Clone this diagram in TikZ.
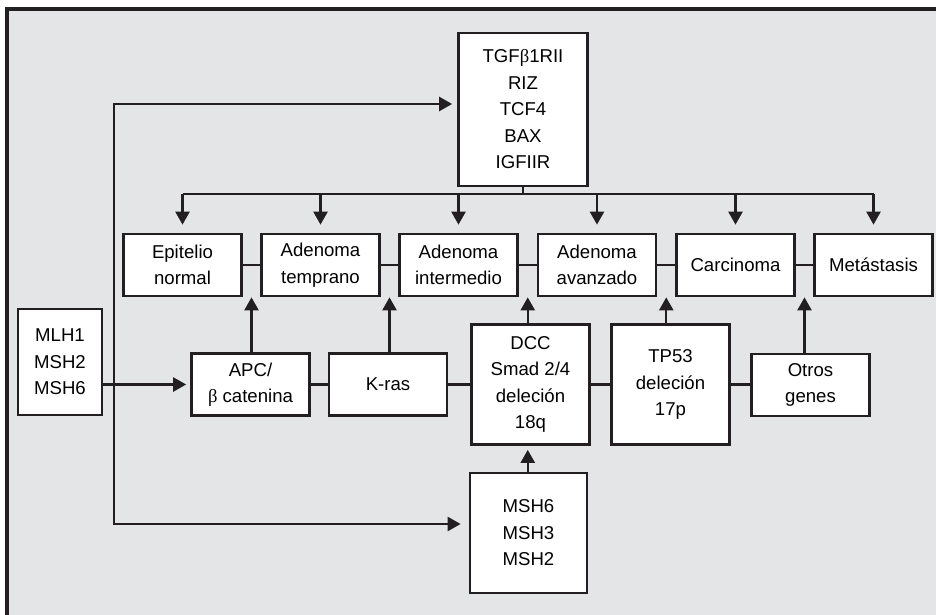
\documentclass[tikz,border=0pt]{standalone}
\usepackage{fontspec}
\setmainfont{Liberation Sans}
\newfontfamily\griega{Liberation Serif}
\usetikzlibrary{arrows.meta,calc}
\definecolor{fondo}{HTML}{E4E5E7}
\definecolor{trazo}{HTML}{231F20}
\tikzset{
  >={Triangle[length=6.5pt,width=7pt]},
  caja/.style={draw=trazo,fill=white,line width=1.35pt,align=center,inner sep=0pt,
    font=\fontsize{9.3}{13.25}\selectfont},
  etapa/.style={caja,minimum width=59pt,minimum height=31pt},
  linea/.style={draw=trazo,line width=1.2pt},
  flecha/.style={linea,->}
}
\begin{document}
\begin{tikzpicture}[x=0.5pt,y=-0.5pt]
\useasboundingbox (0,0) rectangle (936,615);
\fill[fondo] (7,9) rectangle (936,615);
\draw[trazo,line width=1.6pt] (7,615)--(7,9)--(936,9);

% genes de arriba
\node[caja,minimum width=64.5pt,minimum height=76.5pt] (tgf) at (523,109.5)
  {TGF{\griega β}1RII\\RIZ\\TCF4\\BAX\\IGFIIR};

% etapas
\node[etapa] (epi) at (182.5,265) {Epitelio\\normal};
\node[etapa] (temp) at (320.5,265) {Adenoma\\temprano};
\node[etapa] (inter) at (458.5,265) {Adenoma\\intermedio};
\node[etapa] (avan) at (597,265) {Adenoma\\avanzado};
\node[etapa] (carc) at (735.5,265) {Carcinoma};
\node[etapa] (meta) at (873.5,265) {Metástasis};

% genes de abajo
\node[caja,minimum width=42pt,minimum height=53pt] (mlh) at (60,362) {MLH1\\MSH2\\MSH6};
\node[etapa] (apc) at (250.5,384.5) {APC/\\{\griega β} catenina};
\node[etapa] (kras) at (388,384.5) {K-ras};
\node[etapa,minimum height=60pt] (dcc) at (530.5,384.5) {DCC\\Smad 2/4\\deleción\\18q};
\node[etapa,minimum height=60pt] (tp53) at (670.5,384.5) {TP53\\deleción\\17p};
\node[etapa] (otros) at (810.5,385) {Otros\\genes};
\node[caja,minimum width=58.5pt,minimum height=60pt] (msh) at (528.5,533) {MSH6\\MSH3\\MSH2};

% uniones entre cajas
\draw[linea] (epi)--(temp) (temp)--(inter) (inter)--(avan) (avan)--(carc) (carc)--(meta);
\draw[linea] (apc.east)--(apc.east -| kras.west) (kras.east)--(kras.east -| dcc.west)
  (dcc.east)--(dcc.east -| tp53.west) (tp53.east)--(tp53.east -| otros.west);

% reparto desde arriba
\coordinate (bus) at (523,194);
\draw[linea] (tgf.south) -- (tgf.south |- bus);
\draw[linea] (epi.north |- bus) -- (meta.north |- bus);
\foreach \e in {epi,temp,inter,avan,carc,meta}
  \draw[flecha,shorten >=4pt] (\e.north |- bus) -- (\e.north);

% flechas hacia las etapas
\coordinate (h1) at ($(epi.south east)!.5!(temp.south west)$);
\coordinate (h2) at ($(temp.south east)!.5!(inter.south west)$);
\coordinate (h3) at ($(inter.south east)!.5!(avan.south west)$);
\coordinate (h4) at ($(avan.south east)!.5!(carc.south west)$);
\coordinate (h5) at ($(carc.south east)!.5!(meta.south west)$);
\draw[flecha] (apc.north -| h1) -- (h1);
\draw[flecha] (kras.north -| h2) -- (h2);
\draw[flecha] (dcc.north -| h3) -- (h3);
\draw[flecha] (tp53.north -| h4) -- (h4);
\draw[flecha] (otros.north -| h5) -- (h5);
\draw[flecha,shorten >=2pt] (msh.north -| h3) -- (dcc.south -| h3);

% rama de reparacion
\coordinate (ramaA) at (114,104);
\coordinate (ramaB) at (114,524);
\draw[flecha,shorten >=2pt] (mlh.east |- apc) -- (apc.west);
\draw[linea,<->,shorten <=4pt,shorten >=2.5pt] (ramaB -| msh.west) -- (ramaB) -- (ramaA) -- (ramaA -| tgf.west);
\end{tikzpicture}
\end{document}
